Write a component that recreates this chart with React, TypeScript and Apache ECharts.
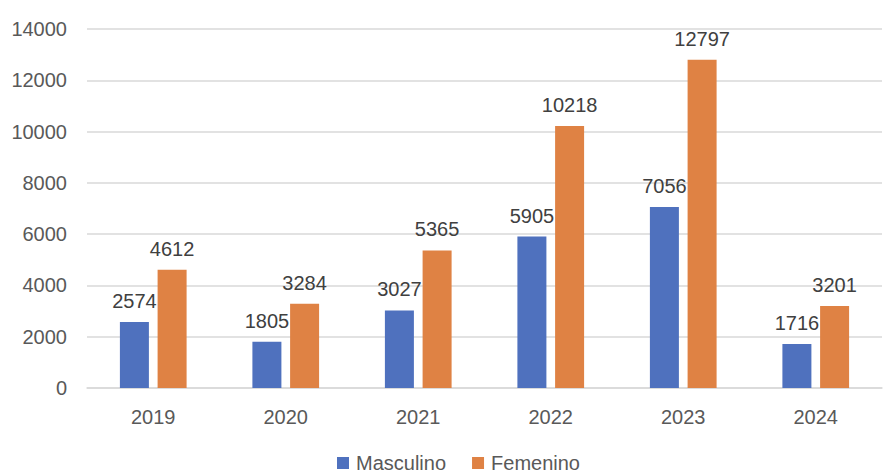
import React, { useEffect, useRef } from "react";
import * as echarts from "echarts";

const categories = ["2019", "2020", "2021", "2022", "2023", "2024"];
const masculino = [2574, 1805, 3027, 5905, 7056, 1716];
const femenino = [4612, 3284, 5365, 10218, 12797, 3201];
const seriesNames = ["Masculino", "Femenino"];

const FONT = "'Liberation Sans', Arial, sans-serif";

export default function App() {
  const ref = useRef<HTMLDivElement>(null);
  useEffect(() => {
    document.body.style.margin = "0";
    if (!ref.current) return;
    const chart = echarts.init(ref.current, null, { renderer: "svg" });
    const label = {
      show: true,
      position: "top",
      distance: 11,
      color: "#404040",
      fontSize: 20,
      fontFamily: FONT,
    };
    chart.setOption({
      animation: false,
      textStyle: { fontFamily: FONT },
      grid: { left: 87, right: 13, top: 29, bottom: 87, containLabel: false },
      legend: {
        data: seriesNames,
        top: 453,
        left: 337,
        padding: 0,
        icon: "rect",
        itemWidth: 12,
        itemHeight: 12,
        itemGap: 26,
        textStyle: { color: "#595959", fontSize: 20, fontFamily: FONT, padding: [0, 0, 0, 2] },
      },
      xAxis: {
        type: "category",
        data: categories,
        axisLine: { show: true, lineStyle: { color: "#D9D9D9", width: 1.5 } },
        axisTick: { show: false },
        axisLabel: { color: "#595959", fontSize: 20, fontFamily: FONT, margin: 19 },
      },
      yAxis: {
        type: "value",
        min: 0,
        max: 14000,
        interval: 2000,
        axisLine: { show: false },
        axisTick: { show: false },
        axisLabel: {
          color: "#595959",
          fontSize: 20,
          fontFamily: FONT,
          margin: 20,
          formatter: (v: number) => String(v),
        },
        splitLine: { lineStyle: { color: "#D9D9D9", width: 1.5 } },
      },
      series: [
        {
          name: seriesNames[0],
          type: "bar",
          data: masculino,
          barWidth: 29,
          barGap: "30%",
          itemStyle: { color: "#4F71BE" },
          label,
        },
        {
          name: seriesNames[1],
          type: "bar",
          data: femenino,
          barWidth: 29,
          barGap: "30%",
          itemStyle: { color: "#DF8244" },
          label,
        },
      ],
    });
    return () => chart.dispose();
  }, []);
  return <div ref={ref} style={{ width: 895, height: 475 }} />;
}
